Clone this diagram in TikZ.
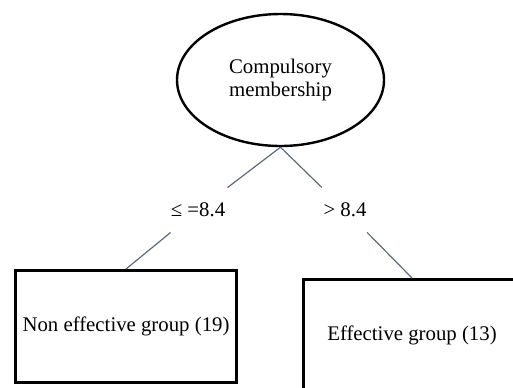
\documentclass[tikz,border=0pt]{standalone}
\usepackage{fontspec}
\setmainfont{Liberation Serif}
\usetikzlibrary{shapes.geometric,positioning}
\definecolor{edgegray}{RGB}{96,106,120}

\begin{document}
\begin{tikzpicture}[x=0.5pt,y=-0.5pt,
	every node/.style={font=\fontsize{10.4}{11.5}\selectfont},
	split/.style={ellipse,draw,line width=1.2pt,minimum width=103.5pt,minimum height=66pt,align=center},
	leaf/.style={rectangle,draw,line width=1.5pt,minimum width=109pt,minimum height=56pt},
	cond/.style={inner xsep=2pt,inner ysep=7.5pt},
	branch/.style={draw=edgegray,line width=0.6pt}]
	%% page size of the reference
	\useasboundingbox (0,0) rectangle (513,387);

	% root of the tree
	\node[split] (root) at (280.5,80) {Compulsory\\membership};

	% split values
	\node[cond] (lowcut) at (198,210) {≤ =8.4};
	\node[cond] (highcut) at (345,210) {> 8.4};

	% the two groups
	\node[leaf] (noneff) at (126,326.5) {Non effective group (19)};
	\node[leaf] (eff) at (412,335.5) {Effective group (13)};

	\draw[branch] (root.south) -- (lowcut);
	\draw[branch] (lowcut) -- (noneff.north);
	\draw[branch] (root.south) -- (highcut);
	\draw[branch] (highcut) -- (eff.north);
\end{tikzpicture}
\end{document}
